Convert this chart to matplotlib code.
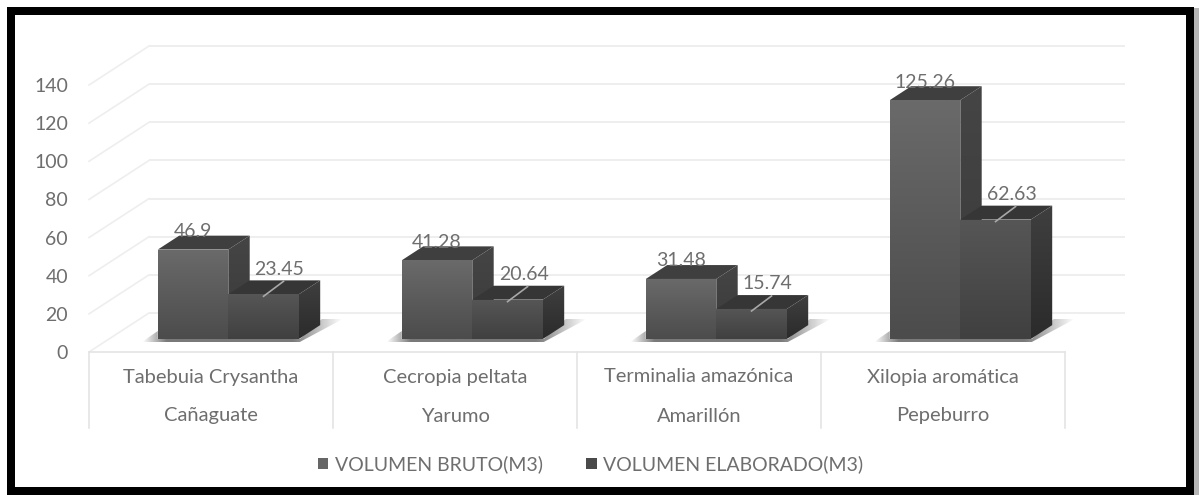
# plot.py - 3D-style grouped column chart of wood volumes per species

import numpy as np
import matplotlib

matplotlib.use("Agg")
import matplotlib.pyplot as plt
from matplotlib.patches import Patch, Polygon, Rectangle
from matplotlib.transforms import Affine2D

species = ["Tabebuia Crysantha", "Cecropia peltata", "Terminalia amazónica", "Xilopia aromática"]
common_names = ["Cañaguate", "Yarumo", "Amarillón", "Pepeburro"]
volumen_bruto = [46.9, 41.28, 31.48, 125.26]
volumen_elaborado = [23.45, 20.64, 15.74, 62.63]
bruto_labels = ["46.9", "41.28", "31.48", "125.26"]
elaborado_labels = ["23.45", "20.64", "15.74", "62.63"]
y_ticks = [0, 20, 40, 60, 80, 100, 120, 140]
legend_labels = ["VOLUMEN BRUTO(M3)", "VOLUMEN ELABORADO(M3)"]

W, H = 1199, 495
PX_X = 244.0  # pixel per category
PX_Y = 1.907  # pixel per value unit
X0, Y0 = 89, 352  # where category 0 / value 0 sit on the front edge
DEPTH_X, DEPTH_Y = 60 / PX_X, 39 / PX_Y

TEXT = "#6e6e6e"
GRID = "#eeeeee"
FS = 14

plt.rcParams["font.family"] = ["Lato", "DejaVu Sans"]


def proj(x, y, d):
    """Category/value plus depth (0 front, 1 back wall) to axes data."""
    return x + d * DEPTH_X, y + d * DEPTH_Y


def grad_poly(ax, pts, top, bottom, z):
    """Polygon with a vertical colour gradient."""
    pts = np.array(pts)
    c1, c2 = matplotlib.colors.to_rgb(top), matplotlib.colors.to_rgb(bottom)
    t = np.linspace(0, 1, 64)[:, None]
    img = (1 - t) * np.array(c1) + t * np.array(c2)
    im = ax.imshow(img[:, None, :], aspect="auto", zorder=z, interpolation="bilinear",
                   extent=(pts[:, 0].min(), pts[:, 0].max(), pts[:, 1].min(), pts[:, 1].max()))
    im.set_clip_path(Polygon(pts, closed=True, transform=ax.transData))


def shadow(ax, x, z):
    """Soft floor shadow of one bar group, offsets given in pixels from the bar foot."""
    foot_x, foot_y = proj(x, 0, 1 / 3)
    off = [(-16, -3), (142, -3), (185, 20), (164, 20), (142, 0), (0, 0), (0, 8)]
    pts = np.array([(foot_x + a / PX_X, foot_y + b / PX_Y) for a, b in off])
    ramp = np.linspace(0, 1, 128)
    alpha = np.minimum(ramp / 0.12, 1) * np.minimum((1 - ramp) / 0.25, 1)
    img = np.zeros((1, 128, 4))
    img[..., :3] = 0.3
    img[..., 3] = alpha * 0.75
    im = ax.imshow(img, aspect="auto", zorder=z, interpolation="bilinear",
                   extent=(pts[:, 0].min(), pts[:, 0].max(), pts[:, 1].min(), pts[:, 1].max()))
    im.set_clip_path(Polygon(pts, closed=True, transform=ax.transData))


def bar3d(ax, left, width, value, front, side, top, z):
    d1, d2 = 1 / 3, 0.69
    right = left + width
    grad_poly(ax, [proj(left, 0, d1), proj(right, 0, d1), proj(right, value, d1), proj(left, value, d1)],
              front[0], front[1], z + 0.2)
    grad_poly(ax, [proj(right, 0, d1), proj(right, 0, d2), proj(right, value, d2), proj(right, value, d1)],
              side[0], side[1], z + 0.1)
    ax.add_patch(Polygon([proj(left, value, d1), proj(right, value, d1), proj(right, value, d2), proj(left, value, d2)],
                         closed=True, facecolor=top, edgecolor="none", zorder=z))


fig = plt.figure(figsize=(W / 100, H / 100), dpi=100, facecolor="white")
ax = fig.add_axes([0, 0, 1, 1])
ax.axis("off")

# back wall, left wall and floor
for v in y_ticks:
    x1, y1 = proj(0, v, 1)
    x2 = (1125 - X0) / PX_X
    ax.plot([x1, x2], [y1, y1], color=GRID, lw=1.4, zorder=1, solid_capstyle="butt")
    ax.plot([0, x1], [v, y1], color=GRID, lw=1.2, zorder=1)
    ax.text((68 - X0) / PX_X, v - 1.5 / PX_Y, str(v), ha="right", va="center", fontsize=FS, color=TEXT)

# category boxes below the floor
n = len(species)
ax.plot([0, n], [0, 0], color="#e4e4e4", lw=1.2, zorder=1)
for i in range(n + 1):
    ax.plot([i, i], [0, (Y0 - 428) / PX_Y], color="#e4e4e4", lw=1.2, zorder=1)
for i in range(n):
    ax.text(i + 0.5, (Y0 - 377) / PX_Y, species[i], ha="center", va="center", fontsize=FS + 0.5, color=TEXT)
    ax.text(i + 0.5, (Y0 - 416) / PX_Y, common_names[i], ha="center", va="center", fontsize=FS + 0.5, color=TEXT)

# bars
width = 70.5 / PX_X
for i in range(n):
    left = i + 0.2
    z = 3 + i
    shadow(ax, left, 2)
    bar3d(ax, left, width, volumen_bruto[i], ("#6a6a6a", "#4c4c4c"), ("#454545", "#3a3a3a"), "#3f3f3f", z)
    bar3d(ax, left + width, width, volumen_elaborado[i], ("#565656", "#404040"), ("#3f3f3f", "#2b2b2b"), "#363636", z + 0.5)

    # labels
    lx, ly = proj(left + width / 2, volumen_bruto[i], 1 / 3)
    ax.text(lx, ly + 18 / PX_Y, bruto_labels[i], ha="center", va="center", fontsize=FS, color=TEXT, zorder=10)
    lx, ly = proj(left + 1.5 * width, volumen_elaborado[i], 1 / 3)
    ax.text(lx + 16 / PX_X, ly + 25 / PX_Y, elaborado_labels[i], ha="center", va="center", fontsize=FS, color=TEXT, zorder=10)
    ax.plot([lx, lx + 20 / PX_X], [ly - 2 / PX_Y, ly + 13 / PX_Y], color="#a8a8a8", lw=1.2, zorder=10)

ax.set_xlim(-X0 / PX_X, (W - X0) / PX_X)
ax.set_ylim((Y0 - H) / PX_Y, Y0 / PX_Y)

handles = [Patch(facecolor="#666666", label=legend_labels[0]), Patch(facecolor="#4a4a4a", label=legend_labels[1])]
fig.legend(handles=handles, loc="center", bbox_to_anchor=(590.5 / W, 1 - 464.5 / H), ncol=2, frameon=False,
           fontsize=FS, labelcolor=TEXT, handlelength=0.55, handleheight=0.55, handletextpad=0.35, columnspacing=2.2)

# black frame with a grey edge on the right, in pixel coordinates
to_px = Affine2D().scale(1 / W, -1 / H).translate(0, 1) + fig.transFigure
fig.add_artist(Rectangle((1193, 8), 6, 487, facecolor="#b5b5b5", edgecolor="none", transform=to_px))
fig.add_artist(Rectangle((10.5, 11), 1179, 480, facecolor="none", edgecolor="black", linewidth=5.76,
                         joinstyle="miter", transform=to_px))

fig.savefig("out.png", dpi=100)
plt.close(fig)
